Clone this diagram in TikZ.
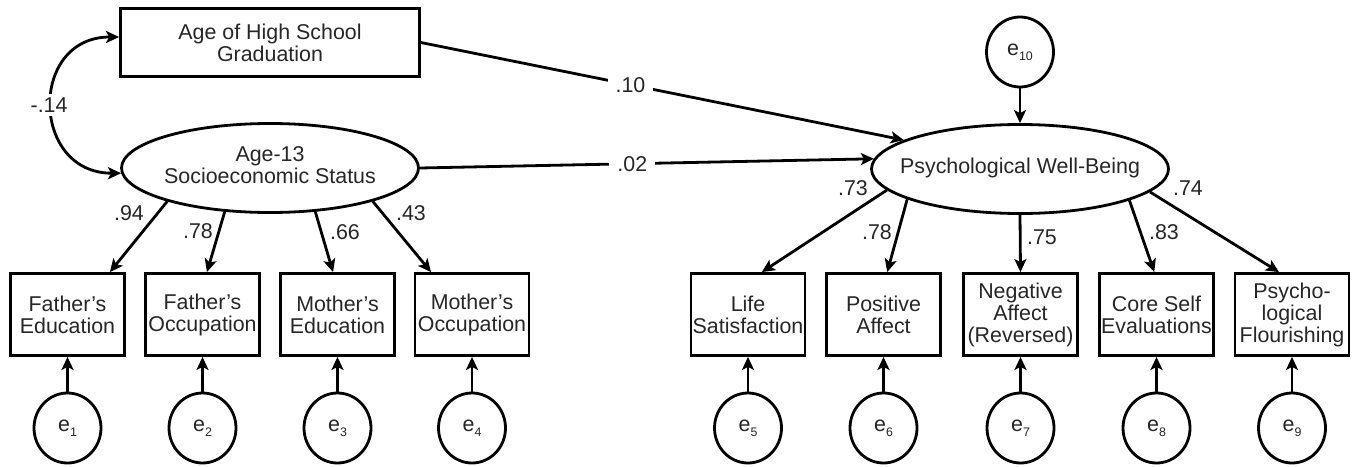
\documentclass[tikz,border=0pt]{standalone}
\usepackage{fontspec}
\setmainfont{Liberation Sans}
\usetikzlibrary{arrows.meta,shapes.geometric,calc}
\newcommand{\esub}[1]{e\raisebox{-2.6pt}{\fontsize{6.2}{6.2}\selectfont #1}}
\newcommand{\ztext}[1]{\makebox[0pt]{\begin{tabular}{@{}c@{}}#1\end{tabular}}}
\begin{document}
\begin{tikzpicture}[x=0.5pt,y=-0.5pt,
  font=\fontsize{10.7}{11}\selectfont,
  every node/.style={text=black!85},
  obs/.style={draw=black, line width=1.4pt, rectangle, minimum width=57pt, minimum height=41pt, inner sep=0pt, align=center},
  lat/.style={draw=black, line width=1.4pt, ellipse, minimum width=148.5pt, minimum height=44.5pt, inner sep=0pt},
  err/.style={draw=black, line width=1.4pt, ellipse, minimum width=33.5pt, minimum height=35pt, inner sep=0pt},
  arr/.style={line width=1.4pt, -{Stealth[length=6.5pt,width=6pt,inset=1.5pt]}},
  dbl/.style={line width=1.4pt, {Stealth[length=6.5pt,width=6pt,inset=1.5pt]}-{Stealth[length=6.5pt,width=6pt,inset=1.5pt]}},
  lab/.style={fill=white, inner xsep=4pt, inner ysep=1pt},
  coef/.style={inner sep=0pt}
]
\useasboundingbox (0,0) rectangle (1359,466);

% top observed and latent variables
\node[obs, minimum width=149.5pt, minimum height=34pt] (top) at (270,42.5) {Age of High School\\Graduation};
\node[lat] (ses) at (270,168) {\ztext{Age-13\\Socioeconomic Status}};
\node[lat] (pwb) at (1020,169) {\ztext{Psychological Well-Being}};
\node[err] (e10) at (1020,52) {\esub{10}};

% indicator boxes
\node[obs] (b1) at (67.5,314.5) {Father's\\Education};
\node[obs] (b2) at (202.5,314.5) {Father's\\Occupation};
\node[obs] (b3) at (337.5,314.5) {Mother's\\Education};
\node[obs] (b4) at (472,314.5) {Mother's\\Occupation};
\node[obs] (b5) at (748,314.5) {Life\\Satisfaction};
\node[obs] (b6) at (883.5,314.5) {Positive\\Affect};
\node[obs] (b7) at (1020.5,314.5) {Negative\\Affect\\(Reversed)};
\node[obs] (b8) at (1156.5,314.5) {Core Self\\Evaluations};
\node[obs] (b9) at (1292,314.5) {Psycho-\\logical\\Flourishing};

% error terms
\node[err] (e1) at (67.5,428) {\esub{1}};
\node[err] (e2) at (202.5,428) {\esub{2}};
\node[err] (e3) at (337.5,428) {\esub{3}};
\node[err] (e4) at (472,428) {\esub{4}};
\node[err] (e5) at (748,428) {\esub{5}};
\node[err] (e6) at (883.5,428) {\esub{6}};
\node[err] (e7) at (1020.5,428) {\esub{7}};
\node[err] (e8) at (1156.5,428) {\esub{8}};
\node[err] (e9) at (1292,428) {\esub{9}};

% error arrows
\foreach \i in {1,...,9} {\draw[arr] (e\i.north) -- (b\i.south);}
\draw[arr] (e10.south) -- (pwb.north);

% covariance
\draw[dbl] ([yshift=2.75pt]top.west) to[out=180,in=180,looseness=1.7]
  node[lab, inner xsep=1pt, inner ysep=2pt, xshift=-1.5pt] {-.14} (ses.182);

% structural paths
\draw[arr] (top.east) -- node[lab, pos=0.434] {.10} (pwb.166);
\draw[arr] (ses.east) -- node[lab, pos=0.468] {.02} (pwb.176.5);

% SES loadings
\draw[arr] (ses.198) -- (b1.45);
\draw[arr] (ses.224) -- (b2.84);
\draw[arr] (ses.316) -- (b3.96);
\draw[arr] (ses.342) -- (b4.134);
\node[coef] (l1) at (129,213) {.94};
\node[coef] (l2) at (198,231) {.78};
\node[coef] (l3) at (345,232) {.66};
\node[coef] (l4) at (411,213) {.43};

% PWB loadings
\draw[arr] (pwb.189.7) -- (b5.72);
\draw[arr] (pwb.195.6) -- (b6.85);
\draw[arr] (pwb.south) -- (b7.north);
\draw[arr] (pwb.344.5) -- (b8.93);
\draw[arr] (pwb.350.4) -- (b9.107);
\node[coef] (l5) at (853,188) {.73};
\node[coef] (l6) at (877,232) {.78};
\node[coef] (l7) at (1042,237) {.75};
\node[coef] (l8) at (1164,232) {.83};
\node[coef] (l9) at (1188,188) {.74};
\end{tikzpicture}
\end{document}
